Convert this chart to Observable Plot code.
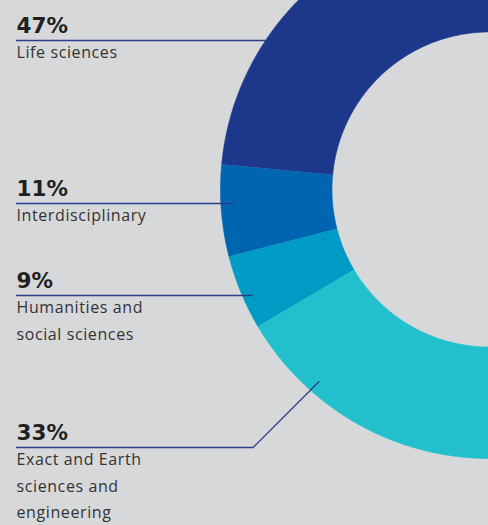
<!DOCTYPE html>
<html><head><meta charset="utf-8">
<script src="https://cdn.jsdelivr.net/npm/d3@7"></script>
<script src="https://cdn.jsdelivr.net/npm/@observablehq/plot@0.6"></script>
<style>
html,body{margin:0;padding:0;background:#d7d8da;overflow:hidden;}
</style></head><body><div id="chart"></div>
<script>
// ---- data ----
const categories = ["Life sciences", "Interdisciplinary", "Humanities and social sciences", "Exact and Earth sciences and engineering"];
const nameLabels = ["Life sciences", "Interdisciplinary", "Humanities and\nsocial sciences", "Exact and Earth\nsciences and\nengineering"];
const shares = [47, 11, 9, 33];
const pctLabels = ["47%", "11%", "9%", "33%"];

// ---- layout & style ----
const W = 488, H = 525, CX = 489, CY = 189, R_OUT = 269, R_IN = 157.5, SWEEP = 180;
const colors = ["#1d388b", "#0065b1", "#009bc5", "#22bfcd"];
const leaderY = [40, 203, 295, 447];
const leaderR = [269, 257, 260, 257];
const elbowAngle = [null, null, null, 221.6];
const textX = 16;
const font = "'Open Sans', sans-serif";
const pctFont = "'DejaVu Sans', sans-serif";

const total = d3.sum(shares);
let acc = 0;
const slices = categories.map((c, i) => {
  const a0 = 360 - acc / total * SWEEP;
  acc += shares[i];
  const a1 = 360 - acc / total * SWEEP;
  return {c, a0, a1};
});
const rad = d => d * Math.PI / 180;
const pt = (r, a) => [r * Math.sin(rad(a)), -r * Math.cos(rad(a))];
const arcPts = [];
for (const s of slices) {
  const n = Math.max(8, Math.ceil(Math.abs(s.a0 - s.a1) / 0.5));
  for (let k = 0; k <= n; k++) { const a = s.a0 + (s.a1 - s.a0) * k / n; const [x, y] = pt(R_OUT, a); arcPts.push({c: s.c, x, y}); }
  for (let k = n; k >= 0; k--) { const a = s.a0 + (s.a1 - s.a0) * k / n; const [x, y] = pt(R_IN, a); arcPts.push({c: s.c, x, y}); }
}

const leaderPts = [];
categories.forEach((c, i) => {
  const ly = leaderY[i] - CY;
  const x0 = textX - CX;
  if (elbowAngle[i] != null) {
    const [ax, ay] = pt(leaderR[i], elbowAngle[i]);
    const bx = ax - (ly - ay);
    leaderPts.push({c, x: x0, y: ly}, {c, x: bx, y: ly}, {c, x: ax, y: ay});
  } else {
    const ax = -Math.sqrt(leaderR[i] ** 2 - ly ** 2);
    leaderPts.push({c, x: x0, y: ly}, {c, x: ax, y: ly});
  }
});

const idx = d3.range(categories.length);

const chart = Plot.plot({
  width: W, height: H, margin: 0,
  style: {background: "transparent", overflow: "hidden", fontFamily: font},
  x: {domain: [-CX, W - CX], range: [0, W], axis: null},
  y: {domain: [-CY, H - CY], range: [0, H], axis: null},
  color: {domain: categories, range: colors},
  marks: [
    Plot.line(arcPts, {x: "x", y: "y", z: "c", fill: "c", stroke: "c", strokeWidth: 0.6, curve: "linear"}),
    Plot.line(leaderPts, {x: "x", y: "y", z: "c", stroke: "#2b3e8e", strokeWidth: 1.3}),
    Plot.text(idx, {x: () => textX - CX, y: i => leaderY[i] - CY - 8, text: i => pctLabels[i], textAnchor: "start", lineAnchor: "bottom", fontSize: 21.5, fontWeight: 700, fill: "#231f20", fontFamily: pctFont}),
    Plot.text(idx, {x: () => textX - CX, y: i => leaderY[i] - CY - 1.2, text: i => nameLabels[i], textAnchor: "start", lineAnchor: "top", lineHeight: 1.66, fontSize: 16, fill: "#333333", fontFamily: font})
  ]
});
const textGroups = chart.querySelectorAll('g[aria-label="text"]');
if (textGroups[1]) textGroups[1].style.letterSpacing = "0.6px";
document.getElementById("chart").appendChild(chart);
</script></body></html>
